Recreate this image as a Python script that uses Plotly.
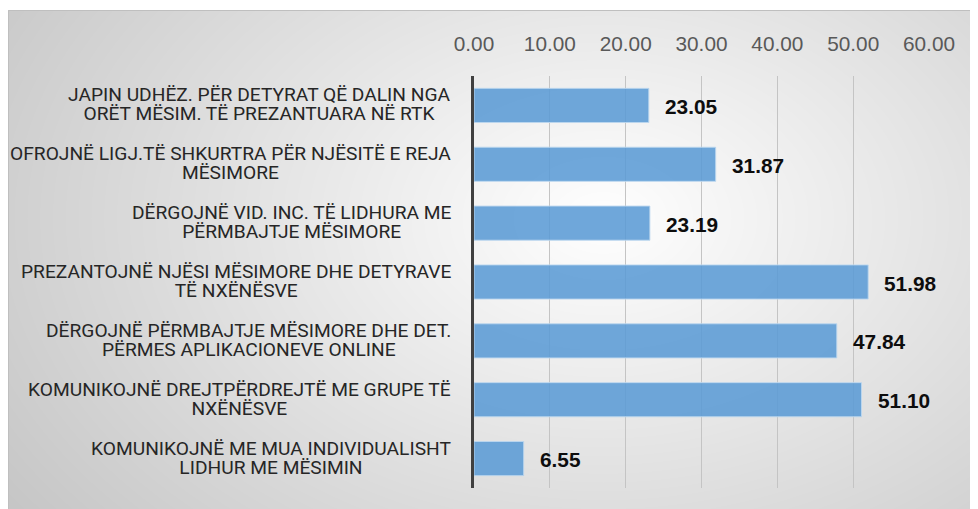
import zlib, struct, base64
import numpy as np
import plotly.graph_objects as go

# ---------------- data ----------------
label_line1 = [
    "JAPIN UDHËZ. PËR DETYRAT QË DALIN NGA",
    "OFROJNË LIGJ.TË SHKURTRA PËR NJËSITË E REJA",
    "DËRGOJNË VID. INC. TË LIDHURA ME",
    "PREZANTOJNË NJËSI MËSIMORE DHE DETYRAVE",
    "DËRGOJNË PËRMBAJTJE MËSIMORE DHE DET.",
    "KOMUNIKOJNË DREJTPËRDREJTË ME GRUPE TË",
    "KOMUNIKOJNË ME MUA INDIVIDUALISHT",
]
label_line2 = [
    "ORËT MËSIM. TË PREZANTUARA NË RTK",
    "MËSIMORE",
    "PËRMBAJTJE MËSIMORE",
    "TË NXËNËSVE",
    "PËRMES APLIKACIONEVE ONLINE",
    "NXËNËSVE",
    "LIDHUR ME MËSIMIN",
]
values = [23.05, 31.87, 23.19, 51.98, 47.84, 51.10, 6.55]
x_ticks = [0, 10, 20, 30, 40, 50, 60]

categories = [a + "<br>" + b for a, b in zip(label_line1, label_line2)]

# ---------------- layout geometry (figure pixels; page adds an 8px offset) ----------------
W, H = 970, 501
L, R, T, B = 466, 921, 68, 480


def px_to_paper_x(px):
    return (px - L) / (R - L)


def px_to_paper_y(py):
    return (B - py) / (B - T)


# ---------------- radial gradient background (PNG) ----------------
def png_gray(arr):
    h, w = arr.shape
    raw = b"".join(b"\x00" + arr[i].tobytes() for i in range(h))

    def chunk(t, d):
        c = struct.pack(">I", len(d)) + t + d
        return c + struct.pack(">I", zlib.crc32(t + d) & 0xFFFFFFFF)

    return (b"\x89PNG\r\n\x1a\n"
            + chunk(b"IHDR", struct.pack(">IIBBBBB", w, h, 8, 0, 0, 0, 0))
            + chunk(b"IDAT", zlib.compress(raw, 9))
            + chunk(b"IEND", b""))


bx0, by0, bx1, by1 = 0, 2, W, H
gw, gh = bx1 - bx0, by1 - by0
yy, xx = np.mgrid[0:gh, 0:gw]
cx, cy, rx, ry = 595 - bx0, 210 - by0, 640, 440
d = np.sqrt(((xx - cx) / rx) ** 2 + ((yy - cy) / ry) ** 2)
grad = np.clip(255 - 50 * d, 185, 255).astype(np.uint8)
bg_src = "data:image/png;base64," + base64.b64encode(png_gray(grad)).decode()

# ---------------- figure ----------------
fig = go.Figure()
fig.add_trace(go.Bar(
    x=values,
    y=categories,
    orientation="h",
    marker=dict(color="rgba(91,155,213,0.88)",
                line=dict(color="rgba(189,215,238,0.9)", width=1)),
    hoverinfo="x+y",
))

annotations = []
for cat, l1, l2 in zip(categories, label_line1, label_line2):
    txt = ('<span style="font-size:19.2px">' + l1 + '</span><br>'
           '<span style="font-size:19.2px">' + l2 + '</span>')
    annotations.append(dict(
        x=0, xref="paper", y=cat, yref="y", text=txt, showarrow=False,
        xanchor="right", yanchor="middle", align="center", xshift=-21, yshift=1,
        font=dict(family="Roboto", size=14.8, color="#262626"),
    ))
for cat, v in zip(categories, values):
    annotations.append(dict(
        x=v, xref="x", y=cat, yref="y", text="<b>%.2f</b>" % v, showarrow=False,
        xanchor="left", yanchor="middle", xshift=14, yshift=-1,
        font=dict(family="Liberation Sans", size=20.8, color="#0d0d0d"),
    ))

fig.update_layout(
    width=W, height=H, autosize=False,
    margin=dict(l=L, r=W - R, t=T, b=H - B, pad=0),
    paper_bgcolor="white",
    plot_bgcolor="rgba(0,0,0,0)",
    bargap=0.42,
    showlegend=False,
    font=dict(family="Liberation Sans", color="#595959"),
    xaxis=dict(
        side="top", range=[0, 60], tickvals=x_ticks, tickformat=".2f",
        showgrid=True, gridcolor="#c4c4c4", gridwidth=1,
        zeroline=False, showline=False, ticks="",
        tickfont=dict(family="Liberation Sans", size=20.8, color="#595959"),
        ticklabelstandoff=20, fixedrange=True,
    ),
    yaxis=dict(
        autorange="reversed", showticklabels=False, ticks="",
        showgrid=False, zeroline=False,
        showline=True, linecolor="#404040", linewidth=3, fixedrange=True,
    ),
    images=[dict(
        source=bg_src, xref="paper", yref="paper",
        x=px_to_paper_x(bx0), y=px_to_paper_y(by0),
        sizex=gw / (R - L), sizey=gh / (B - T),
        xanchor="left", yanchor="top", sizing="stretch", layer="below",
    )],
    shapes=[dict(
        type="rect", xref="paper", yref="paper", layer="below",
        x0=px_to_paper_x(0.5), x1=px_to_paper_x(990),
        y0=px_to_paper_y(520), y1=px_to_paper_y(2.5),
        line=dict(color="#bfbfbf", width=1), fillcolor="rgba(0,0,0,0)",
    )],
    annotations=annotations,
)

fig.write_html("out.html")
